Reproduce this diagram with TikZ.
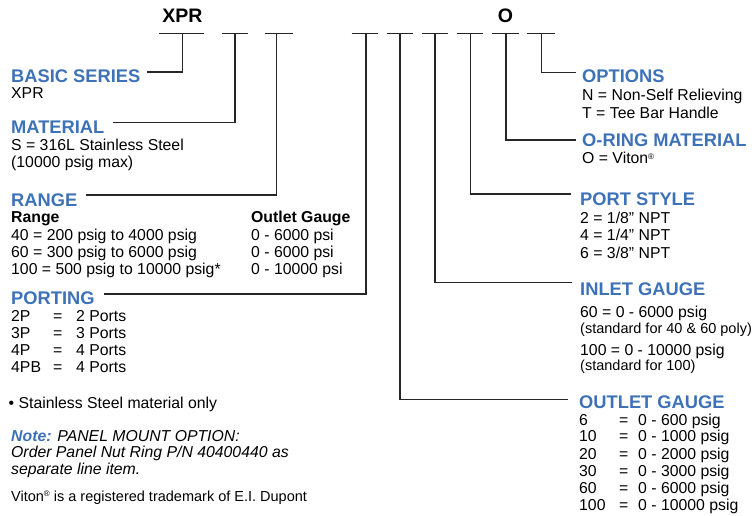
\documentclass[tikz,border=0pt]{standalone}
\usepackage{fontspec}
\setmainfont{Liberation Sans}
\definecolor{hblue}{RGB}{62,114,184}
\newcommand\regmark{\raisebox{5pt}{\fontsize{8}{8}\selectfont ®}}
\tikzset{
  txt/.style={anchor=base west, inner sep=0pt, font=\fontsize{15.8}{18}\selectfont},
  txtb/.style={txt, font=\fontsize{15.8}{18}\selectfont\bfseries},
  smalltxt/.style={anchor=base west, inner sep=0pt, font=\fontsize{14.5}{17}\selectfont},
  head/.style={anchor=base west, inner sep=0pt, font=\fontsize{18.3}{20}\selectfont\bfseries, text=hblue},
  toptxt/.style={anchor=base, inner sep=0pt, font=\fontsize{19.5}{20}\selectfont\bfseries},
  barline/.style={line width=1.2pt, draw=black!85},
  conn/.style={line width=1.2pt, draw=black!85},
}
\begin{document}
\begin{tikzpicture}[x=1pt,y=-1pt]
\useasboundingbox (0,0) rectangle (752,516);
% top code
\node[toptxt] (xprtop) at (182.3,23) {XPR};
\node[toptxt] (otop) at (505.5,23) {O};
\foreach \l/\r/\m/\n in {159.3/204.3/182.3/1, 221.7/248.3/235/2, 265/292.7/276.7/3,
  351.7/378.3/366/4, 386.7/413.3/400/5, 421.7/448.3/435/6, 456.7/483.3/470.5/7,
  491.7/519.3/506/8, 526.7/555/541.7/9}{
  \draw[barline] (\l,33.3) -- (\r,33.3);
  \coordinate (b\n) at (\m,33.3);
}
% connector ends
\coordinate (e1) at (147,72);
\coordinate (e2) at (113,122.3);
\coordinate (e3) at (86,195);
\coordinate (e4) at (104,294);
\coordinate (e5) at (568,399.3);
\coordinate (e6) at (571.7,282.7);
\coordinate (e7) at (570.7,194);
\coordinate (e8) at (576,140);
\coordinate (e9) at (576,72.7);
\foreach \n in {1,...,9}{\draw[conn] (b\n) |- (e\n);}
% left column
\node[head] (basic) at (11,82.5) {BASIC SERIES};
\node[txt] (xpr) at (11,99) {XPR};
\node[head] (material) at (11,134) {MATERIAL};
\node[txt] (mat1) at (11,150.5) {S = 316L Stainless Steel};
\node[txt] (mat2) at (11,167) {(10000 psig max)};
\node[head] (range) at (11,206) {RANGE};
\node[txtb] (rh1) at (11,222.5) {Range};
\node[txtb] (rh2) at (251,222.5) {Outlet Gauge};
\node[txt] (r1a) at (11,240) {40 = 200 psig to 4000 psig};
\node[txt] (r2a) at (11,257) {60 = 300 psig to 6000 psig};
\node[txt] (r3a) at (11,274) {100 = 500 psig to 10000 psig*};
\node[txt] (r1b) at (251,240) {0 - 6000 psi};
\node[txt] (r2b) at (251,257) {0 - 6000 psi};
\node[txt] (r3b) at (251,274) {0 - 10000 psi};
\node[head] (porting) at (11,304) {PORTING};
\foreach \c/\t/\y in {2P/2 Ports/321.7, 3P/3 Ports/338.3, 4P/4 Ports/355, 4PB/4 Ports/372.7}{
  \node[txt] at (11,\y) {\c};
  \node[txt] at (53,\y) {=};
  \node[txt] at (76,\y) {\t};
}
\node[txt] (bullet) at (8.5,408.5) {• Stainless Steel material only};
\node[txt] (note1) at (11,441) {\itshape\textcolor{hblue}{\bfseries Note:} PANEL MOUNT OPTION:};
\node[txt] (note2) at (11,457.5) {\itshape Order Panel Nut Ring P/N 40400440 as};
\node[txt] (note3) at (11,474) {\itshape separate line item.};
\node[smalltxt] (viton) at (11,501) {Viton\regmark\ is a registered trademark of E.I. Dupont};
% right column
\node[head] (options) at (582,83) {OPTIONS};
\node[txt] (o1) at (582,100.5) {N = Non-Self Relieving};
\node[txt] (o2) at (582,118.5) {T = Tee Bar Handle};
\node[head] (oring) at (582,146.7) {O-RING MATERIAL};
\node[txt] (or1) at (582,164) {O = Viton\regmark};
\node[head] (port) at (580,205) {PORT STYLE};
\node[txt] (p1) at (580,223.5) {2 = 1/8” NPT};
\node[txt] (p2) at (580,240.5) {4 = 1/4” NPT};
\node[txt] (p3) at (580,258.5) {6 = 3/8” NPT};
\node[head] (inlet) at (580,295) {INLET GAUGE};
\node[txt] (i1) at (580,317.5) {60 = 0 - 6000 psig};
\node[smalltxt] (i2) at (580,333.5) {(standard for 40 \& 60 poly)};
\node[txt] (i3) at (580,355) {100 = 0 - 10000 psig};
\node[smalltxt] (i4) at (580,370.5) {(standard for 100)};
\node[head] (outlet) at (579,408) {OUTLET GAUGE};
\foreach \c/\t/\y in {6/0 - 600 psig/425, 10/0 - 1000 psig/441.7, 20/0 - 2000 psig/459.3,
  30/0 - 3000 psig/476, 60/0 - 6000 psig/493.3, 100/0 - 10000 psig/510}{
  \node[txt] at (579,\y) {\c};
  \node[txt] at (619,\y) {=};
  \node[txt] at (638,\y) {\t};
}
\end{tikzpicture}
\end{document}
